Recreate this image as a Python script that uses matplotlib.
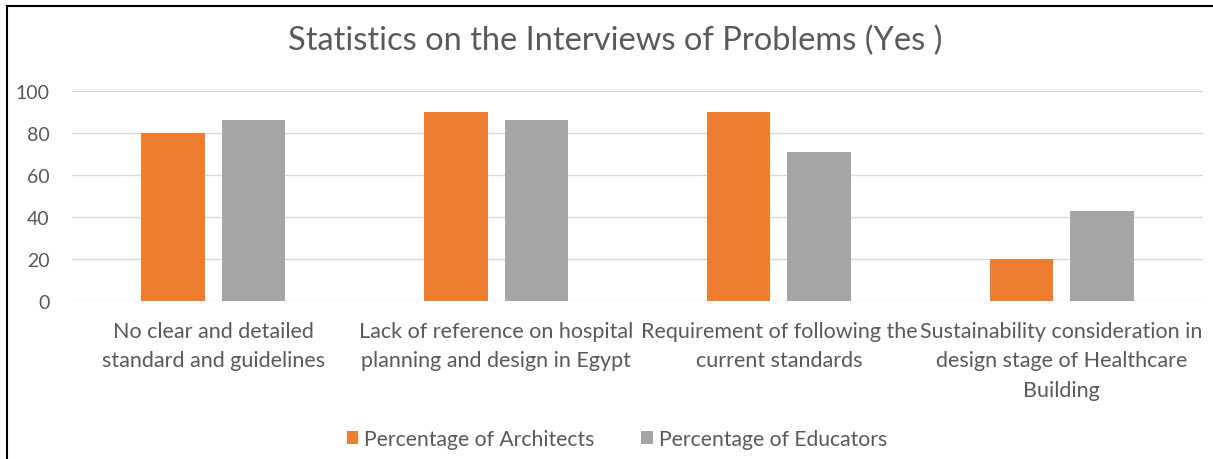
import matplotlib.pyplot as plt
from matplotlib.lines import Line2D
import numpy as np

categories = [
    "No clear and detailed\nstandard and guidelines",
    "Lack of reference on hospital\nplanning and design in Egypt",
    "Requirement of following the\ncurrent standards",
    "Sustainability consideration in\ndesign stage of Healthcare\nBuilding",
]
architects = [80, 90, 90, 20]
educators = [86, 86, 71, 43]
series_names = ["Percentage of Architects", "Percentage of Educators"]
yticks = [0, 20, 40, 60, 80, 100]

ORANGE = "#ED7D31"
GREY = "#A5A5A5"
TEXT = "#595959"
GRID = "#D9D9D9"

plt.rcParams["font.family"] = ["Lato", "DejaVu Sans"]

W, H = 1213, 460
fig = plt.figure(figsize=(W / 100, H / 100), dpi=100)
fig.patch.set_facecolor("white")

# plot area in pixel terms
x0, x1, ytop, ybot = 72, 1203, 91.7, 302.3
ax = fig.add_axes([x0 / W, 1 - ybot / H, (x1 - x0) / W, (ybot - ytop) / H])

x = np.arange(len(categories))
bw = 0.2242
off = 1.27 * bw / 2
ax.bar(x - off, architects, bw, color=ORANGE, label=series_names[0], zorder=3)
ax.bar(x + off, educators, bw, color=GREY, label=series_names[1], zorder=3)

ax.set_xlim(-0.5, len(categories) - 0.5)
ax.set_ylim(0, 100)
ax.set_yticks(yticks)
ax.yaxis.grid(True, color=GRID, linewidth=1.0)
ax.set_axisbelow(True)
for s in ax.spines.values():
    s.set_visible(False)
ax.tick_params(axis="y", length=0, pad=16, labelsize=14, labelcolor=TEXT)
ax.tick_params(axis="x", length=0, pad=14, labelsize=15.5, labelcolor=TEXT)
ax.set_xticks(x)
ax.set_xticklabels(categories, linespacing=1.6)

fig.text(615 / W, 1 - 50 / H, "Statistics on the Interviews of Problems (Yes )",
         ha="center", va="baseline", fontsize=23.5, color=TEXT)

fig.legend(loc="center", bbox_to_anchor=(617 / W, 1 - 440 / H), ncol=2, frameon=False,
           fontsize=15.2, handlelength=0.55, handleheight=0.55, handletextpad=0.3,
           columnspacing=2.2, labelcolor=TEXT)

# chart frame (left and top edges)
fig.add_artist(Line2D([7 / W, 7 / W], [0, 1 - 7 / H], color="black", linewidth=1.5))
fig.add_artist(Line2D([7 / W, 1], [1 - 7 / H, 1 - 7 / H], color="black", linewidth=1.5))

fig.savefig("out.png", dpi=100)
